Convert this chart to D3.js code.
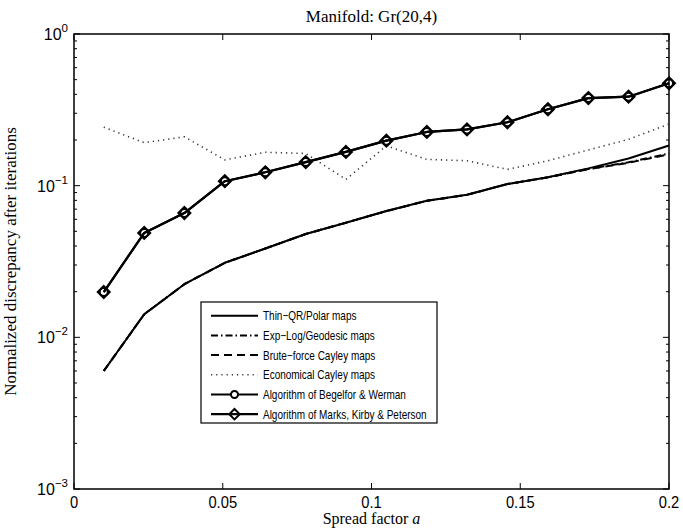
<!DOCTYPE html>
<html>
<head>
<meta charset="utf-8">
<script src="https://cdn.jsdelivr.net/npm/d3@7"></script>
<style>
  body { margin: 0; background: #fff; }
  svg { display: block; }
</style>
</head>
<body>
<div id="chart"></div>
<script>
// Spread factor values (x)
const spread = [0.01, 0.0236, 0.0371, 0.0507, 0.0643, 0.0779, 0.0914, 0.105,
                0.1186, 0.1321, 0.1457, 0.1593, 0.1729, 0.1864, 0.2];

// Normalized discrepancy for each method
const thinQR      = [0.0060, 0.0142, 0.0224, 0.0310, 0.0385, 0.0480, 0.0570, 0.0680,
                     0.0795, 0.0870, 0.1025, 0.1135, 0.1300, 0.1510, 0.1840];
const expLog      = [0.0060, 0.0142, 0.0224, 0.0310, 0.0385, 0.0480, 0.0570, 0.0680,
                     0.0795, 0.0870, 0.1025, 0.1135, 0.1290, 0.1425, 0.1630];
const bruteCayley = [0.0060, 0.0142, 0.0224, 0.0310, 0.0385, 0.0480, 0.0570, 0.0680,
                     0.0795, 0.0870, 0.1025, 0.1135, 0.1285, 0.1415, 0.1610];
const economical  = [0.243, 0.192, 0.210, 0.148, 0.166, 0.163, 0.110, 0.183,
                     0.149, 0.146, 0.128, 0.146, 0.172, 0.202, 0.255];
const begelfor    = [0.0199, 0.0488, 0.066, 0.107, 0.1225, 0.143, 0.167, 0.198,
                     0.226, 0.235, 0.262, 0.319, 0.378, 0.386, 0.473];
const marks       = [0.0199, 0.0488, 0.066, 0.107, 0.1225, 0.143, 0.167, 0.198,
                     0.226, 0.235, 0.262, 0.319, 0.378, 0.386, 0.473];

const xTicks = [0, 0.05, 0.1, 0.15, 0.2];
const xTickLabels = ["0", "0.05", "0.1", "0.15", "0.2"];
const yExponents = [0, -1, -2, -3];

const legendNames = ["Thin\u2212QR/Polar maps", "Exp\u2212Log/Geodesic maps",
                     "Brute\u2212force Cayley maps", "Economical Cayley maps",
                     "Algorithm of Begelfor & Werman", "Algorithm of Marks, Kirby & Peterson"];

const W = 683, H = 528;
const margin = { top: 34, right: 14, bottom: 39, left: 74 };
const width = W - margin.left - margin.right,
      height = H - margin.top - margin.bottom;

const svg = d3.select("#chart").append("svg")
    .attr("width", W).attr("height", H);
const g = svg.append("g")
    .attr("transform", `translate(${margin.left},${margin.top})`);

const x = d3.scaleLinear().domain([0, 0.2]).range([0, width]);
const y = d3.scaleLog().domain([1e-3, 1]).range([height, 0]);

const sansFont = "'Liberation Sans', Arial, sans-serif";
const serifFont = "'Liberation Serif', 'DejaVu Serif', serif";

// minor ticks on the log axis, 2..9 per decade
const minorTicks = [];
for (let e = -3; e < 0; e++) {
    for (let k = 2; k <= 9; k++) minorTicks.push(k * Math.pow(10, e));
}

// frame
g.append("rect")
    .attr("width", width).attr("height", height)
    .attr("fill", "none").attr("stroke", "#000").attr("stroke-width", 1.5);

// x ticks (inward, top and bottom)
xTicks.forEach(function (t) {
    g.append("line").attr("x1", x(t)).attr("x2", x(t))
        .attr("y1", height).attr("y2", height - 6)
        .attr("stroke", "#000").attr("stroke-width", 1);
    g.append("line").attr("x1", x(t)).attr("x2", x(t))
        .attr("y1", 0).attr("y2", 6)
        .attr("stroke", "#000").attr("stroke-width", 1);
});
xTicks.forEach(function (t, i) {
    g.append("text")
        .attr("transform", `translate(${x(t)},${height + 19}) scale(0.92,1)`)
        .attr("text-anchor", "middle")
        .attr("font-family", sansFont).attr("font-size", 16)
        .text(xTickLabels[i]);
});

// y ticks: major + minor on both sides
yExponents.forEach(function (e) {
    const v = Math.pow(10, e);
    g.append("line").attr("x1", 0).attr("x2", 6).attr("y1", y(v)).attr("y2", y(v))
        .attr("stroke", "#000");
    g.append("line").attr("x1", width).attr("x2", width - 6).attr("y1", y(v)).attr("y2", y(v))
        .attr("stroke", "#000");
    const lab = g.append("text")
        .attr("x", -6).attr("y", y(v) + 6)
        .attr("text-anchor", "end")
        .attr("font-family", sansFont).attr("font-size", 16);
    lab.append("tspan").text("10");
    lab.append("tspan").attr("dy", -8).attr("font-size", 11.5)
        .text(e === 0 ? "0" : "\u2212" + Math.abs(e));
});
minorTicks.forEach(function (v) {
    g.append("line").attr("x1", 0).attr("x2", 3).attr("y1", y(v)).attr("y2", y(v))
        .attr("stroke", "#000");
    g.append("line").attr("x1", width).attr("x2", width - 3).attr("y1", y(v)).attr("y2", y(v))
        .attr("stroke", "#000");
});

// title and axis labels
svg.append("text")
    .attr("x", margin.left + width / 2).attr("y", 22)
    .attr("text-anchor", "middle")
    .attr("font-family", serifFont).attr("font-size", 17)
    .text("Manifold:  Gr(20,4)");

const xl = svg.append("text")
    .attr("x", margin.left + width / 2).attr("y", 524)
    .attr("text-anchor", "middle")
    .attr("font-family", serifFont).attr("font-size", 16);
xl.append("tspan").text("Spread factor ");
xl.append("tspan").attr("font-style", "italic").text("a");

svg.append("text")
    .attr("transform", `translate(16,${margin.top + height / 2}) rotate(-90)`)
    .attr("text-anchor", "middle")
    .attr("font-family", serifFont).attr("font-size", 17)
    .text("Normalized discrepancy after iterations");

// series
const series = [
    { name: legendNames[0], values: thinQR, dash: null, width: 2, marker: null },
    { name: legendNames[1], values: expLog, dash: "7,3,1.5,3", width: 2, marker: null },
    { name: legendNames[2], values: bruteCayley, dash: "8,5", width: 2, marker: null },
    { name: legendNames[3], values: economical, dash: "1.2,4", width: 1.6, marker: null },
    { name: legendNames[4], values: begelfor, dash: null, width: 2.2, marker: "circle" },
    { name: legendNames[5], values: marks, dash: null, width: 2.2, marker: "diamond" }
];

const line = d3.line()
    .x((d, i) => x(spread[i]))
    .y((d) => y(d));

function drawMarker(sel, type, cx, cy, r) {
    if (type === "circle") {
        sel.append("circle").attr("cx", cx).attr("cy", cy).attr("r", r)
            .attr("fill", "none").attr("stroke", "#000").attr("stroke-width", 2);
    } else if (type === "diamond") {
        const s = r * 1.5;
        sel.append("path")
            .attr("d", `M${cx},${cy - s}L${cx + s},${cy}L${cx},${cy + s}L${cx - s},${cy}Z`)
            .attr("fill", "none").attr("stroke", "#000").attr("stroke-width", 2);
    }
}

series.forEach(function (s) {
    const p = g.append("path")
        .datum(s.values)
        .attr("fill", "none")
        .attr("stroke", s.name === legendNames[3] ? "#333" : "#000")
        .attr("stroke-width", s.width)
        .attr("stroke-linejoin", "round")
        .attr("d", line);
    if (s.dash) p.attr("stroke-dasharray", s.dash);
    if (s.marker) {
        s.values.forEach(function (v, i) {
            drawMarker(g, s.marker, x(spread[i]), y(v), 4);
        });
    }
});

// legend
const lg = svg.append("g").attr("transform", "translate(201,302)");
lg.append("rect").attr("width", 236).attr("height", 121)
    .attr("fill", "#fff").attr("stroke", "#000").attr("stroke-width", 1.2);
series.forEach(function (s, i) {
    const ly = 13.7 + i * 19.7;
    const l = lg.append("line").attr("x1", 10).attr("x2", 57)
        .attr("y1", ly).attr("y2", ly)
        .attr("stroke", s.name === legendNames[3] ? "#333" : "#000")
        .attr("stroke-width", s.width);
    if (s.dash) l.attr("stroke-dasharray", s.dash);
    if (s.marker === "circle") {
        lg.append("circle").attr("cx", 33.5).attr("cy", ly).attr("r", 3.5)
            .attr("fill", "#fff").attr("stroke", "#000").attr("stroke-width", 2);
    } else if (s.marker === "diamond") {
        drawMarker(lg, "diamond", 33.5, ly, 3.5);
    }
    lg.append("text")
        .attr("transform", `translate(62,${ly + 4.5}) scale(0.8,1)`)
        .attr("font-family", sansFont).attr("font-size", 12.5)
        .text(s.name);
});
</script>
</body>
</html>
